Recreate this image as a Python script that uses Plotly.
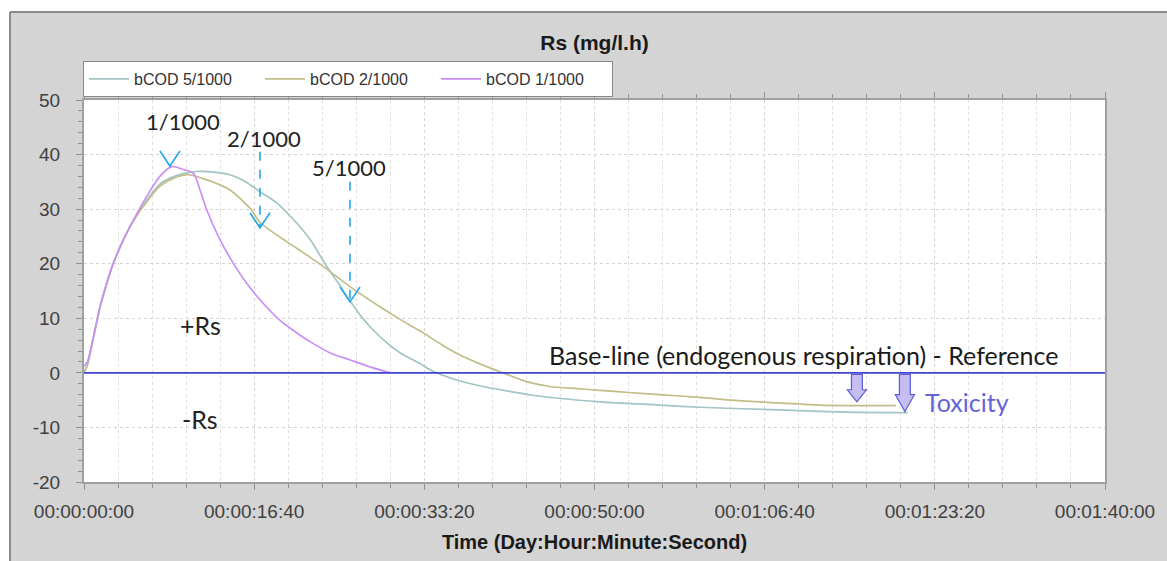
import plotly.graph_objects as go

# // respirometry data: time in seconds, Rs in mg/l.h
t_5 = [0, 20, 55, 94, 133, 172, 231, 290, 368, 446, 530, 600, 662, 760, 858, 950, 1034, 1130, 1228,
       1330, 1428, 1500, 1563, 1630, 1698, 1780, 1857, 1974, 2050, 2200, 2344, 2500, 2638, 2800,
       3032, 3384, 3619, 4089, 4483, 4841]
rs_5 = [0.0, 1.5, 6.4, 12.0, 16.3, 20.0, 24.3, 27.9, 31.6, 34.6, 36.0, 36.6, 36.9, 36.8, 36.3, 35.0,
        33.2, 31.2, 28.2, 24.4, 19.4, 16.2, 13.2, 10.3, 7.9, 5.5, 3.7, 1.7, 0.3, -1.4, -2.5, -3.4,
        -4.1, -4.7, -5.3, -5.9, -6.3, -6.8, -7.2, -7.3]

t_2 = [0, 20, 55, 94, 133, 172, 231, 290, 368, 446, 530, 613, 700, 780, 858, 975, 1034, 1193, 1300,
       1445, 1563, 1739, 1857, 1974, 2100, 2200, 2330, 2462, 2600, 2738, 2900, 3032, 3200, 3384,
       3619, 3800, 4019, 4324, 4771]
rs_2 = [0.0, 1.5, 6.4, 12.0, 16.3, 20.0, 24.3, 27.8, 31.3, 34.2, 35.7, 36.3, 35.6, 34.7, 33.5, 30.2,
        27.6, 24.0, 21.8, 18.6, 15.8, 12.1, 9.8, 7.7, 5.2, 3.4, 1.6, 0.0, -1.6, -2.5, -2.9, -3.2,
        -3.6, -4.0, -4.5, -5.0, -5.4, -5.9, -6.0]

t_1 = [0, 20, 55, 94, 133, 172, 231, 290, 368, 446, 515, 580, 642, 682, 721, 799, 877, 956, 1034,
       1152, 1270, 1345, 1450, 1560, 1680, 1800]
rs_1 = [1.2, 2.0, 6.6, 12.1, 16.4, 20.1, 24.4, 28.0, 32.3, 36.0, 37.8, 37.3, 36.6, 33.5, 29.9, 24.4,
        20.1, 16.4, 13.4, 9.6, 6.9, 5.4, 3.6, 2.4, 1.1, 0.0]

series_names = ['bCOD 5/1000', 'bCOD 2/1000', 'bCOD 1/1000']
series_colors = ['#a3c4c4', '#c2bd88', '#c98ef7']

x_tick_vals = [0, 1000, 2000, 3000, 4000, 5000, 6000]
x_tick_labels = ['00:00:00:00', '00:00:16:40', '00:00:33:20', '00:00:50:00',
                 '00:01:06:40', '00:01:23:20', '00:01:40:00']
y_tick_vals = [-20, -10, 0, 10, 20, 30, 40, 50]
y_tick_labels = ['-20', '-10', '0', '10', '20', '30', '40', '50']

# // dose labels with arrow (x, arrow top, arrow tip)
dose_labels = ['1/1000', '2/1000', '5/1000']
dose_arrow_t = [505, 1034, 1563]
dose_arrow_top = [43.2, 40.5, 35.0]
dose_arrow_tip = [37.9, 26.6, 13.0]
dose_text_t = [582, 1058, 1557]
dose_text_y = [46.0, 43.0, 37.7]

# // toxicity arrows (centre, shaft end, tip)
tox_t = [4542, 4824]
tox_shaft = [-3.1, -4.0]
tox_tip = [-5.3, -7.1]

ARIAL = 'Liberation Sans, Arial, sans-serif'
AX_FONT = dict(family=ARIAL, size=19, color='#404040')
CAL = 'Lato, Carlito, Calibri, sans-serif'

fig = go.Figure()
for t, rs, name, col in zip([t_5, t_2, t_1], [rs_5, rs_2, rs_1], series_names, series_colors):
    fig.add_trace(go.Scatter(x=t, y=rs, mode='lines', name=name,
                             line=dict(color=col, width=1.7, shape='spline', smoothing=0.8)))

# // base line
fig.add_hline(y=0, line=dict(color='#4242d2', width=1.6), layer='above')

shapes = []
for t, y0, y1 in zip(dose_arrow_t, dose_arrow_top, dose_arrow_tip):
    shapes.append(dict(type='line', xref='x', yref='y', x0=t, x1=t, y0=y0, y1=y1,
                       line=dict(color='#22a6e8', width=1.6, dash='dash')))
    shapes.append(dict(type='path', xref='x', yref='y',
                       path=f'M {t-59},{y1+2.75} L {t},{y1} L {t+59},{y1+2.75}',
                       line=dict(color='#22a6e8', width=1.6)))
for c, ys, yt in zip(tox_t, tox_shaft, tox_tip):
    hw, HW, top = 32, 56, -0.3
    p = (f'M {c-hw},{top} L {c+hw},{top} L {c+hw},{ys} L {c+HW},{ys} L {c},{yt} '
         f'L {c-HW},{ys} L {c-hw},{ys} Z')
    shapes.append(dict(type='path', xref='x', yref='y', path=p, fillcolor='#c6bef0',
                       line=dict(color='#5a5ad6', width=1.2)))

# // grey window frame around the chart
W, H, L, T, PW, PH = 1167, 561, 84, 100, 1021, 382
def px(x):
    return (x - L) / PW
def py(y):
    return (T + PH - y) / PH
shapes += [
    dict(type='rect', xref='paper', yref='paper', x0=px(0), x1=px(10), y0=py(H), y1=py(0),
         fillcolor='white', line=dict(width=0), layer='below'),
    dict(type='rect', xref='paper', yref='paper', x0=px(0), x1=px(W), y0=py(12), y1=py(0),
         fillcolor='white', line=dict(width=0), layer='below'),
    dict(type='line', xref='paper', yref='paper', x0=px(10), x1=px(10), y0=py(H), y1=py(12),
         line=dict(color='#8a8a8a', width=2)),
    dict(type='line', xref='paper', yref='paper', x0=px(10), x1=px(W), y0=py(12), y1=py(12),
         line=dict(color='#8a8a8a', width=2)),
]

annotations = []
for txt, t, y in zip(dose_labels, dose_text_t, dose_text_y):
    annotations.append(dict(x=t, y=y, text=txt, showarrow=False,
                            font=dict(family=CAL, size=22, color='#222222')))
annotations += [
    dict(x=682, y=8.8, text='+Rs', showarrow=False, font=dict(family=CAL, size=25, color='#222222')),
    dict(x=682, y=-8.4, text='-Rs', showarrow=False, font=dict(family=CAL, size=25, color='#222222')),
    dict(x=2720, y=3.2, text='Base-line (endogenous respiration) - Reference', showarrow=False,
         xanchor='left', font=dict(family=CAL, size=25, color='#1a1a1a')),
    dict(x=4929, y=-5.4, text='Toxicity', showarrow=False, xanchor='left',
         font=dict(family=CAL, size=25, color='#6464d8')),
]

fig.update_layout(
    width=W, height=H,
    margin=dict(l=L, r=W - L - PW, t=T, b=H - T - PH),
    paper_bgcolor='#d4d4d4', plot_bgcolor='white',
    title=dict(text='<b>Rs (mg/l.h)</b>', x=0.5, xref='paper', y=1 - 43 / H, yanchor='middle',
               font=dict(family=ARIAL, size=21, color='#1a1a1a')),
    legend=dict(orientation='h', x=px(83), y=py(79), xanchor='left', yanchor='middle',
                bgcolor='white', bordercolor='#8a8a8a', borderwidth=1,
                entrywidth=121, entrywidthmode='pixels', itemwidth=40,
                font=dict(family=ARIAL, size=16, color='#333333')),
    showlegend=True,
    shapes=shapes, annotations=annotations,
    xaxis=dict(range=[0, 6000], tickmode='array', tickvals=x_tick_vals, ticktext=x_tick_labels,
               showline=True, linecolor='#a0a0a0', linewidth=2, mirror='allticks',
               ticks='outside', ticklen=6, tickcolor='#909090', ticklabelstandoff=5,
               showgrid=True, gridcolor='#d4d4d4', griddash='dot', zeroline=False,
               minor=dict(tickmode='linear', tick0=0, dtick=200, ticks='outside', ticklen=4,
                          tickcolor='#909090', showgrid=True, gridcolor='#e0e0e0', griddash='dot'),
               tickfont=AX_FONT,
               title=dict(text='<b>Time (Day:Hour:Minute:Second)</b>', standoff=14,
                          font=dict(family=ARIAL, size=20, color='#1a1a1a'))),
    yaxis=dict(range=[-20, 50], tickmode='array', tickvals=y_tick_vals, ticktext=y_tick_labels,
               showline=True, linecolor='#a0a0a0', linewidth=2, mirror=True,
               ticks='outside', ticklen=6, tickcolor='#909090', ticklabelstandoff=12,
               showgrid=True, gridcolor='#d4d4d4', griddash='dot', zeroline=False,
               minor=dict(tickmode='linear', tick0=0, dtick=2, ticks='outside', ticklen=4,
                          tickcolor='#909090', showgrid=False),
               tickfont=AX_FONT),
)

fig.write_html('out.html', config={'displayModeBar': False},
               post_script="document.body.style.margin='0px';")
